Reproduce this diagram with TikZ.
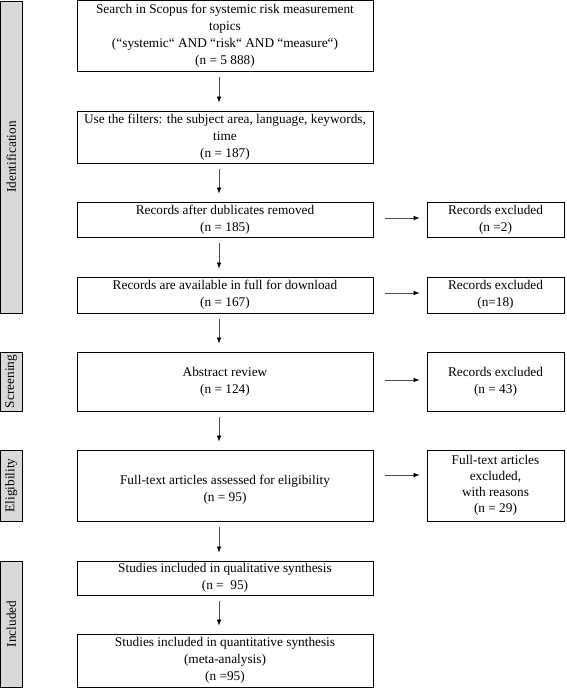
\documentclass[tikz,border=0pt]{standalone}
\usepackage{fontspec}
\setmainfont{Liberation Serif}
\usetikzlibrary{arrows.meta}
\begin{document}
\begin{tikzpicture}[x=1pt,y=-1pt,
  txt/.style={font=\fontsize{13.3}{17}\selectfont},
  mainbox/.style={draw=black, line width=0.8pt, minimum width=296pt, inner sep=0pt, align=center, txt},
  sidebox/.style={draw=black, line width=0.8pt, minimum width=137pt, inner sep=0pt, align=center, txt},
  stagebox/.style={draw=black, fill=gray!30, line width=0.8pt, rotate=90, minimum height=21.5pt, inner sep=0pt, txt},
  arr/.style={draw=black!70, line width=0.7pt, -{Latex[length=6pt,width=4.5pt,black]}},
  varr/.style={arr, shorten <=6pt, shorten >=8pt},
  harr/.style={arr, shorten <=12pt, shorten >=7pt}]
\useasboundingbox (0,0) rectangle (566,689);
% stage labels
\node[stagebox, minimum width=312pt] (l1) at (11.25,157) {Identification};
\node[stagebox, minimum width=59pt] (l2) at (11.25,381.5) {Screening};
\node[stagebox, minimum width=71pt] (l3) at (11.25,485.5) {Eligibility};
\node[stagebox, minimum width=126pt] (l4) at (11.25,624) {Included};
% main boxes
\node[mainbox, minimum height=70.5pt] (b1) at (225,35.75) {Search in Scopus for systemic risk measurement\\ topics\\ (“systemic“ AND “risk“ AND “measure“)\\ (n = 5 888)};
\node[mainbox, minimum height=52pt] (b2) at (225,137) {Use the filters: the subject area, language, keywords,\\ time\\ (n = 187)};
\node[mainbox, minimum height=35pt] (b3) at (225,219.5) {Records after dublicates removed\\ (n = 185)};
\node[mainbox, minimum height=36pt] (b4) at (225,295) {Records are available in full for download\\ (n = 167)};
\node[mainbox, minimum height=59pt] (b5) at (225,381.5) {Abstract review\\ (n = 124)};
\node[mainbox, minimum height=71pt] (b6) at (225,485.5) {\mbox{}\\ Full-text articles assessed for eligibility\\ (n = 95)};
\node[mainbox, minimum height=34pt] (b7) at (225,578) {Studies included in qualitative synthesis\\ (n = \ 95)};
\node[mainbox, minimum height=53pt] (b8) at (225,660.5) {Studies included in quantitative synthesis\\ (meta-analysis)\\ (n =95)};
% exclusion boxes
\node[sidebox, minimum height=35pt] (r1) at (495.5,219.5) {Records excluded\\ (n =2)};
\node[sidebox, minimum height=36pt] (r2) at (495.5,295) {Records excluded\\ (n=18)};
\node[sidebox, minimum height=59pt] (r3) at (495.5,381.5) {Records excluded\\ (n = 43)};
\node[sidebox, minimum height=71pt, font=\fontsize{13.3}{16}\selectfont] (r4) at (495.5,485.5) {Full-text articles\\ excluded,\\ with reasons\\ (n = 29)};
% vertical arrows
\foreach \a/\b in {b1/b2,b2/b3,b3/b4,b4/b5,b5/b6,b6/b7,b7/b8}
  \draw[varr] ([xshift=-6pt]\a.south) -- ([xshift=-6pt]\b.north);
% horizontal arrows
\draw[harr] ([yshift=1.5pt]b3.east) -- ([yshift=1.5pt]b3.east -| r1.west);
\draw[harr] ([yshift=2pt]b4.east) -- ([yshift=2pt]b4.east -| r2.west);
\draw[harr] ([yshift=1.5pt]b5.east) -- ([yshift=1.5pt]b5.east -| r3.west);
\draw[harr] ([yshift=10.5pt]b6.east) -- ([yshift=10.5pt]b6.east -| r4.west);
\end{tikzpicture}
\end{document}
